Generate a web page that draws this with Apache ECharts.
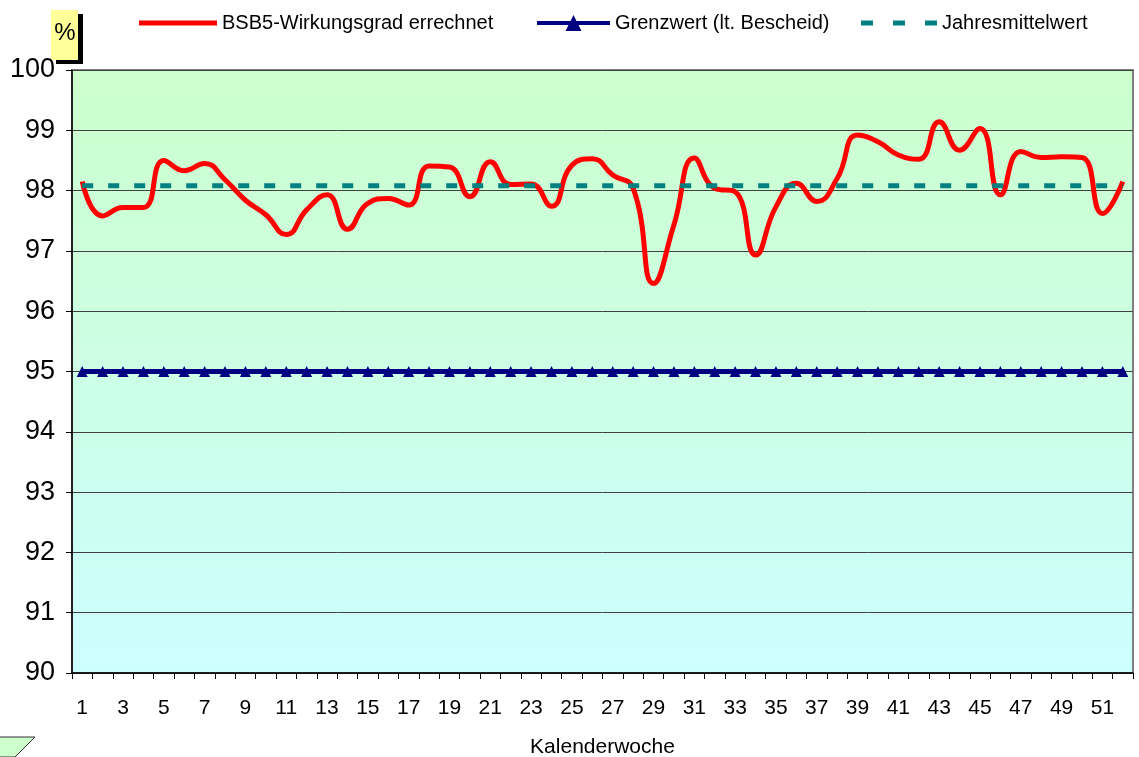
<!DOCTYPE html>
<html>
<head>
<meta charset="utf-8">
<title>BSB5-Wirkungsgrad</title>
<script src="https://cdn.jsdelivr.net/npm/echarts@6/dist/echarts.min.js"></script>
<style>
	html, body {margin:0; padding:0; background:#fff;}
	#chartWirkungsgrad {width:1139px; height:757px;}
</style>
</head>
<body>
<div id="chartWirkungsgrad"></div>
<script>
// Kalenderwochen (x-Achse)
var weeks = ['1','2','3','4','5','6','7','8','9','10','11','12','13','14','15','16','17','18','19','20',
	'21','22','23','24','25','26','27','28','29','30','31','32','33','34','35','36','37','38','39','40',
	'41','42','43','44','45','46','47','48','49','50','51','52'];

// BSB5-Wirkungsgrad errechnet, in %
var bsbWerte = [98.15, 97.58, 97.72, 97.72, 98.50, 98.33, 98.45, 98.18, 97.84, 97.60,
	97.27, 97.68, 97.93, 97.36, 97.79, 97.87, 97.76, 98.41, 98.39, 97.90,
	98.48, 98.10, 98.11, 97.74, 98.42, 98.53, 98.26, 98.04, 96.46, 97.43,
	98.54, 98.04, 97.98, 96.93, 97.73, 98.12, 97.82, 98.20, 98.92, 98.81,
	98.59, 98.52, 99.14, 98.67, 99.03, 97.93, 98.65, 98.55, 98.56, 98.55,
	97.62, 98.15];

var grenzwert = 95;        // lt. Bescheid
var jahresmittel = 98.08;  // Jahresmittelwert

// y-Achse
var yMin = 90, yMax = 100, yStep = 1;

var fontName = 'Liberation Sans';

function viewChart() {
	var myChart = echarts.init(document.getElementById('chartWirkungsgrad'));

	var nameBsb = 'BSB5-Wirkungsgrad errechnet';
	var nameGrenz = 'Grenzwert (lt. Bescheid)';
	var nameMittel = 'Jahresmittelwert';

	var legendText = {fontFamily: fontName, fontSize: 20, color: '#000'};

	var option = {
		animation: false,
		backgroundColor: '#fff',
		legend: [
			// rote Linie als Balken-Icon
			{data: [{name: nameBsb, icon: 'rect'}], left: 139, top: 13, padding: 0,
				itemWidth: 78, itemHeight: 5, textStyle: legendText},
			{data: [nameGrenz], left: 535, top: 13, padding: 0, itemWidth: 73, itemHeight: 20,
				textStyle: legendText, lineStyle: {width: 4}},
			// gestrichelte Linie: drei Striche
			{data: [{name: nameMittel, icon: 'path://M0,0h12v5h-12z M32,0h12v5h-12z M64,0h12v5h-12z'}],
				left: 861, top: 13, padding: 0, itemWidth: 76, itemHeight: 5,
				symbolKeepAspect: false, textStyle: legendText}
		],
		grid: {
			left: 72, right: 6, top: 70, bottom: 84,
			outerBoundsMode: 'none',
			show: true,
			borderColor: '#808080',
			borderWidth: 2,
			backgroundColor: new echarts.graphic.LinearGradient(0, 0, 0, 1, [
				{offset: 0, color: '#CCFFCC'},
				{offset: 1, color: '#CCFFFF'}
			])
		},
		xAxis: {
			type: 'category',
			data: weeks,
			boundaryGap: true,
			name: 'Kalenderwoche',
			nameLocation: 'middle',
			nameGap: 64,
			nameTextStyle: {fontFamily: fontName, fontSize: 21, color: '#000'},
			axisLine: {lineStyle: {color: '#000', width: 1.5}},
			axisTick: {show: true, interval: 0, length: 6, lineStyle: {color: '#000'}},
			axisLabel: {interval: 1, margin: 25, fontFamily: fontName, fontSize: 21, color: '#000'},
			splitLine: {show: false}
		},
		yAxis: {
			type: 'value',
			min: yMin,
			max: yMax,
			interval: yStep,
			axisLine: {show: true, lineStyle: {color: '#000', width: 1.5}},
			axisTick: {show: true, length: 6, lineStyle: {color: '#000'}},
			axisLabel: {margin: 17, fontFamily: fontName, fontSize: 27, color: '#000'},
			splitLine: {lineStyle: {color: '#404040', width: 1}}
		},
		series: [
			{
				name: nameBsb,
				type: 'line',
				data: bsbWerte,
				smooth: true,
				showSymbol: false,
				symbol: 'none',
				lineStyle: {color: '#FF0000', width: 5},
				itemStyle: {color: '#FF0000'}
			},
			{
				name: nameGrenz,
				type: 'line',
				data: weeks.map(function() { return grenzwert; }),
				symbol: 'triangle',
				symbolSize: 11,
				lineStyle: {color: '#000080', width: 5},
				itemStyle: {color: '#000080'}
			},
			{
				name: nameMittel,
				type: 'line',
				data: weeks.map(function() { return jahresmittel; }),
				symbol: 'none',
				lineStyle: {color: '#008080', width: 5, type: [11, 15]},
				itemStyle: {color: '#008080'}
			}
		],
		graphic: [
			// "%" Beschriftung mit Schatten
			{type: 'rect', shape: {x: 56, y: 14, width: 27, height: 50}, style: {fill: '#000'}},
			{type: 'rect', shape: {x: 51, y: 10, width: 27, height: 50}, style: {fill: '#FFFF99'}},
			{type: 'text', x: 65, y: 33, style: {text: '%', font: '24px "Liberation Sans"', fill: '#000',
				textAlign: 'center', textVerticalAlign: 'middle'}},
			// Form unten links
			{type: 'polygon', shape: {points: [[-2, 737], [35, 737], [15, 757], [-2, 757]]},
				style: {fill: '#CCFFCC', stroke: '#333', lineWidth: 1}}
		]
	};

	myChart.setOption(option);
}

viewChart();
</script>
</body>
</html>
